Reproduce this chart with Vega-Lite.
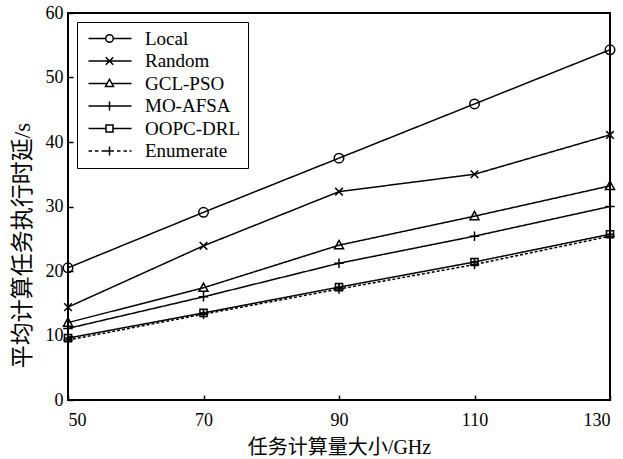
{
  "$schema": "https://vega.github.io/schema/vega-lite/v6.json",
  "width": 542,
  "height": 387,
  "autosize": {"type": "none"},
  "padding": {"left": 68, "top": 13, "right": 13, "bottom": 59},
  "background": "white",
  "config": {
    "font": "Liberation Serif, Times New Roman, serif",
    "view": {"stroke": "black", "strokeWidth": 2},
    "axis": {
      "domain": false,
      "grid": false,
      "tickColor": "black",
      "tickSize": -5,
      "tickWidth": 1.5,
      "labelColor": "black",
      "labelFont": "Liberation Serif, Times New Roman, serif",
      "labelFontSize": 18,
      "titleColor": "black",
      "titleFont": "Liberation Serif, Noto Sans CJK SC, serif",
      "titleFontSize": 20,
      "titleFontWeight": "normal"
    }
  },
  "data": {
    "values": [
      {"series": "Local", "x": 50, "y": 20.5},
      {"series": "Local", "x": 70, "y": 29.1},
      {"series": "Local", "x": 90, "y": 37.5},
      {"series": "Local", "x": 110, "y": 45.9},
      {"series": "Local", "x": 130, "y": 54.3},
      {"series": "Random", "x": 50, "y": 14.4},
      {"series": "Random", "x": 70, "y": 23.9},
      {"series": "Random", "x": 90, "y": 32.3},
      {"series": "Random", "x": 110, "y": 35.0},
      {"series": "Random", "x": 130, "y": 41.1},
      {"series": "GCL-PSO", "x": 50, "y": 12.0},
      {"series": "GCL-PSO", "x": 70, "y": 17.4},
      {"series": "GCL-PSO", "x": 90, "y": 24.0},
      {"series": "GCL-PSO", "x": 110, "y": 28.5},
      {"series": "GCL-PSO", "x": 130, "y": 33.2},
      {"series": "MO-AFSA", "x": 50, "y": 11.1},
      {"series": "MO-AFSA", "x": 70, "y": 16.0},
      {"series": "MO-AFSA", "x": 90, "y": 21.2},
      {"series": "MO-AFSA", "x": 110, "y": 25.4},
      {"series": "MO-AFSA", "x": 130, "y": 30.0},
      {"series": "OOPC-DRL", "x": 50, "y": 9.6},
      {"series": "OOPC-DRL", "x": 70, "y": 13.5},
      {"series": "OOPC-DRL", "x": 90, "y": 17.5},
      {"series": "OOPC-DRL", "x": 110, "y": 21.4},
      {"series": "OOPC-DRL", "x": 130, "y": 25.7},
      {"series": "Enumerate", "x": 50, "y": 9.3},
      {"series": "Enumerate", "x": 70, "y": 13.3},
      {"series": "Enumerate", "x": 90, "y": 17.2},
      {"series": "Enumerate", "x": 110, "y": 21.0},
      {"series": "Enumerate", "x": 130, "y": 25.4}
    ]
  },
  "encoding": {
    "x": {
      "field": "x", "type": "quantitative",
      "scale": {"domain": [50, 130], "nice": false, "zero": false},
      "axis": {"values": [50, 70, 90, 110, 130], "title": "任务计算量大小/GHz", "labelPadding": 16, "titlePadding": 8}
    },
    "y": {
      "field": "y", "type": "quantitative",
      "scale": {"domain": [0, 60], "nice": false},
      "axis": {"values": [0, 10, 20, 30, 40, 50, 60], "title": "平均计算任务执行时延/s", "labelPadding": 10, "titleFontSize": 23, "titleX": -46, "titleY": 232, "titleAngle": 270, "titleAlign": "center", "titleBaseline": "middle"}
    }
  },
  "layer": [
    {
      "mark": {"type": "line", "color": "black", "strokeWidth": 1.5},
      "encoding": {
        "detail": {"field": "series"},
        "strokeDash": {
          "field": "series", "type": "nominal",
          "scale": {
            "domain": ["Local", "Random", "GCL-PSO", "MO-AFSA", "OOPC-DRL", "Enumerate"],
            "range": [[1, 0], [1, 0], [1, 0], [1, 0], [1, 0], [3, 2]]
          },
          "legend": null
        }
      }
    },
    {
      "mark": {"type": "point", "filled": false, "stroke": "black", "strokeWidth": 1.5, "size": 90, "opacity": 1},
      "encoding": {
        "shape": {
          "field": "series", "type": "nominal",
          "scale": {
            "domain": ["Local", "Random", "GCL-PSO", "MO-AFSA", "OOPC-DRL", "Enumerate"],
            "range": [
              "circle",
              "M-0.8,-0.8L0.8,0.8M-0.8,0.8L0.8,-0.8",
              "M0,-1L0.95,0.75L-0.95,0.75Z",
              "M-1,0H1M0,-1V1",
              "M-0.75,-0.75H0.75V0.75H-0.75ZM-0.75,0H0.75M0,-0.75V0.75",
              "M-1,0H1M0,-1V1"
            ]
          },
          "legend": null
        }
      }
    },
    {
      "mark": {"type": "point", "filled": false, "stroke": "black", "strokeWidth": 1.5, "size": 100, "opacity": 0},
      "encoding": {
        "shape": {
          "field": "series", "type": "nominal",
          "scale": {
            "domain": ["Local", "Random", "GCL-PSO", "MO-AFSA", "OOPC-DRL", "Enumerate"],
            "range": [
              "M-1,0H2.45M3.95,0H7.6M3.95,0A0.75,0.75,0,1,1,2.45,0A0.75,0.75,0,1,1,3.95,0",
              "M-1,0H7.6M2.45,-0.75L3.95,0.75M2.45,0.75L3.95,-0.75",
              "M-1,0H2.55M3.85,0H7.6M3.2,-0.85L4.0,0.6L2.4,0.6Z",
              "M-1,0H7.6M3.2,-0.9V0.9",
              "M-1,0H2.5M3.9,0H7.6M2.5,-0.7H3.9V0.7H2.5Z",
              "M-1,0H-0.3M0.3,0H1M1.6,0H2.3M2.3,0H4.1M4.7,0H5.4M6,0H6.7M7.2,0H7.6M3.2,-0.9V0.9"
            ]
          },
          "legend": {
            "title": null,
            "orient": "top-left",
            "offset": 9,
            "padding": 7,
            "strokeColor": "black",
            "symbolSize": 100,
            "labelFont": "Liberation Serif, Times New Roman, serif",
            "labelFontSize": 19,
            "labelColor": "black",
            "labelOffset": 42,
            "rowPadding": 2.5,
            "encode": {
              "legend": {"update": {"strokeWidth": {"value": 1.5}}},
              "symbols": {"update": {"stroke": {"value": "black"}, "opacity": {"value": 1}, "strokeWidth": {"value": 1.3}, "fill": {"value": "transparent"}}}
            }
          }
        }
      }
    }
  ],
  "resolve": {"scale": {"shape": "independent"}}
}
